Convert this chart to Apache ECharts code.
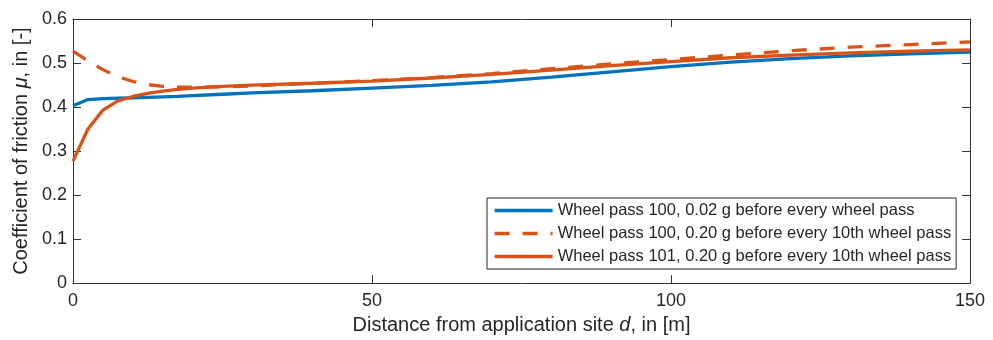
<!DOCTYPE html>
<html>
<head>
<meta charset="utf-8">
<script src="https://cdn.jsdelivr.net/npm/echarts@6/dist/echarts.min.js"></script>
<style>
html,body{margin:0;padding:0;background:#fff;}
#chart{width:993px;height:340px;}
</style>
</head>
<body>
<div id="chart"></div>
<script>
const distance = [0, 2.5, 5, 7.5, 10, 12.5, 15, 17.5, 20, 25, 30, 40, 50, 60, 70, 80, 90, 100, 110, 120, 130, 140, 150];
const pass100Light = [0.403, 0.417, 0.419, 0.420, 0.421, 0.422, 0.423, 0.424, 0.426, 0.429, 0.432, 0.437, 0.443, 0.449, 0.457, 0.468, 0.480, 0.492, 0.502, 0.510, 0.516, 0.521, 0.525];
const pass100Heavy = [0.527, 0.505, 0.485, 0.469, 0.458, 0.451, 0.447, 0.445, 0.445, 0.446, 0.448, 0.454, 0.460, 0.467, 0.476, 0.487, 0.498, 0.508, 0.518, 0.528, 0.536, 0.542, 0.548];
const pass101Heavy = [0.277, 0.350, 0.393, 0.414, 0.424, 0.431, 0.436, 0.440, 0.443, 0.447, 0.450, 0.454, 0.459, 0.466, 0.474, 0.484, 0.494, 0.503, 0.512, 0.518, 0.523, 0.527, 0.530];
const seriesNames = [
  'Wheel pass 100, 0.02 g before every wheel pass',
  'Wheel pass 100, 0.20 g before every 10th wheel pass',
  'Wheel pass 101, 0.20 g before every 10th wheel pass'
];

const FONT = '"Liberation Sans", Arial, sans-serif';
const AXC = '#333333';
const TXT = '#262626';
const pairs = ys => distance.map((d, i) => [d, ys[i]]);

const chart = echarts.init(document.getElementById('chart'), null, {renderer: 'canvas'});
const baseAxis = {
  axisLine: {show: true, onZero: false, lineStyle: {color: AXC, width: 1}},
  axisTick: {show: true, inside: true, length: 8, lineStyle: {color: AXC, width: 1}},
  splitLine: {show: false}
};
chart.setOption({
  animation: false,
  backgroundColor: '#fff',
  textStyle: {fontFamily: FONT},
  grid: {left: 73, right: 23, top: 19, bottom: 54, containLabel: false},
  xAxis: [
    Object.assign({}, baseAxis, {
      type: 'value', position: 'bottom', min: 0, max: 150, interval: 50,
      axisLabel: {fontSize: 18, color: TXT, margin: 9, fontFamily: FONT},
      name: '{a|Distance from application site }{i|d}{a|, in [m]}',
      nameLocation: 'middle', nameGap: 31,
      nameTextStyle: {
        fontFamily: FONT,
        rich: {
          a: {fontSize: 20, color: TXT, fontFamily: FONT},
          i: {fontSize: 20, color: TXT, fontFamily: FONT, fontStyle: 'italic'}
        }
      }
    }),
    Object.assign({}, baseAxis, {
      type: 'value', position: 'top', min: 0, max: 150, interval: 50,
      axisLabel: {show: false}
    })
  ],
  yAxis: [
    Object.assign({}, baseAxis, {
      type: 'value', position: 'left', min: 0, max: 0.6, interval: 0.1,
      axisLabel: {fontSize: 18, color: TXT, margin: 6, fontFamily: FONT},
      name: '{a|Coefficient of friction }{i|μ}{a|, in [-]}',
      nameLocation: 'middle', nameGap: 38, nameRotate: 90,
      nameTextStyle: {
        fontFamily: FONT,
        rich: {
          a: {fontSize: 20, color: TXT, fontFamily: FONT},
          i: {fontSize: 20, color: TXT, fontFamily: FONT, fontStyle: 'italic'}
        }
      }
    }),
    Object.assign({}, baseAxis, {
      type: 'value', position: 'right', min: 0, max: 0.6, interval: 0.1,
      axisLabel: {show: false}
    })
  ],
  legend: {
    show: true,
    orient: 'vertical',
    left: 487, top: 198,
    padding: [4, 5, 4, 6],
    itemWidth: 58, itemHeight: 17, itemGap: 6,
    borderColor: '#262626', borderWidth: 1,
    backgroundColor: '#fff',
    itemStyle: {opacity: 0},
    lineStyle: {width: 3.3},
    textStyle: {fontSize: 16.5, color: TXT, fontFamily: FONT},
    data: seriesNames
  },
  series: [
    {
      name: seriesNames[0], type: 'line', data: pairs(pass100Light),
      symbol: 'none', smooth: false, z: 3,
      lineStyle: {color: '#0072BD', width: 3.3},
      itemStyle: {color: '#0072BD'}
    },
    {
      name: seriesNames[1], type: 'line', data: pairs(pass100Heavy),
      symbol: 'none', smooth: false, z: 4,
      lineStyle: {color: '#D95319', width: 3.3, type: [15, 13]},
      itemStyle: {color: '#D95319'}
    },
    {
      name: seriesNames[2], type: 'line', data: pairs(pass101Heavy),
      symbol: 'none', smooth: false, z: 5,
      lineStyle: {color: '#D95319', width: 3.3},
      itemStyle: {color: '#D95319'}
    }
  ]
});
</script>
</body>
</html>
